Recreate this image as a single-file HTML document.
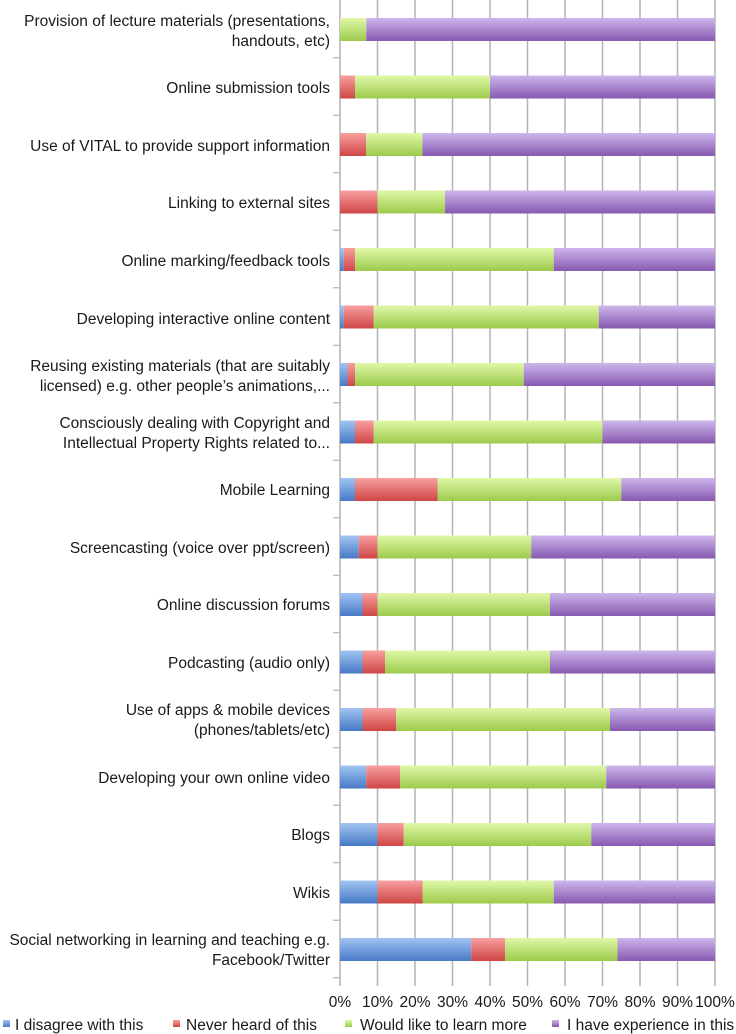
<!DOCTYPE html>
<html><head><meta charset="utf-8"><style>
html,body{margin:0;padding:0;background:#fff;}
svg{display:block;font-family:"Liberation Sans",Arial,sans-serif;}
</style></head><body>
<svg width="736" height="1034" viewBox="0 0 736 1034" xmlns="http://www.w3.org/2000/svg">
<defs>
<linearGradient id="gb" x1="0" y1="0" x2="0" y2="1"><stop offset="0" stop-color="#a2c4f2"/><stop offset="1" stop-color="#4679c6"/></linearGradient>
<linearGradient id="gr" x1="0" y1="0" x2="0" y2="1"><stop offset="0" stop-color="#f8a0a0"/><stop offset="1" stop-color="#cf4545"/></linearGradient>
<linearGradient id="gg" x1="0" y1="0" x2="0" y2="1"><stop offset="0" stop-color="#e0f8a8"/><stop offset="1" stop-color="#9cca4c"/></linearGradient>
<linearGradient id="gp" x1="0" y1="0" x2="0" y2="1"><stop offset="0" stop-color="#cdb6ec"/><stop offset="1" stop-color="#8759b0"/></linearGradient>
</defs>
<g stroke="#b4b4b4" stroke-width="1.5">
<line x1="377.5" y1="0" x2="377.5" y2="986"/><line x1="415" y1="0" x2="415" y2="986"/><line x1="452.5" y1="0" x2="452.5" y2="986"/><line x1="490" y1="0" x2="490" y2="986"/><line x1="527.5" y1="0" x2="527.5" y2="986"/><line x1="565" y1="0" x2="565" y2="986"/><line x1="602.5" y1="0" x2="602.5" y2="986"/><line x1="640" y1="0" x2="640" y2="986"/><line x1="677.5" y1="0" x2="677.5" y2="986"/><line x1="715" y1="0" x2="715" y2="986"/>
<line x1="340" y1="0" x2="340" y2="986"/>
</g>
<g stroke="#b4b4b4" stroke-width="1.2">
<line x1="333" y1="57.75" x2="340" y2="57.75"/><line x1="333" y1="115.25" x2="340" y2="115.25"/><line x1="333" y1="172.75" x2="340" y2="172.75"/><line x1="333" y1="230.25" x2="340" y2="230.25"/><line x1="333" y1="287.75" x2="340" y2="287.75"/><line x1="333" y1="345.25" x2="340" y2="345.25"/><line x1="333" y1="402.75" x2="340" y2="402.75"/><line x1="333" y1="460.25" x2="340" y2="460.25"/><line x1="333" y1="517.75" x2="340" y2="517.75"/><line x1="333" y1="575.25" x2="340" y2="575.25"/><line x1="333" y1="632.75" x2="340" y2="632.75"/><line x1="333" y1="690.25" x2="340" y2="690.25"/><line x1="333" y1="747.75" x2="340" y2="747.75"/><line x1="333" y1="805.25" x2="340" y2="805.25"/><line x1="333" y1="862.75" x2="340" y2="862.75"/><line x1="333" y1="920.25" x2="340" y2="920.25"/><line x1="333" y1="977.75" x2="340" y2="977.75"/>
</g>
<g transform="translate(340,0) scale(3.75,1)">
<g transform="translate(0,18)"><rect x="0" width="7" height="23" fill="url(#gg)"/><rect x="7" width="93" height="23" fill="url(#gp)"/></g>
<g transform="translate(0,75.5)"><rect x="0" width="4" height="23" fill="url(#gr)"/><rect x="4" width="36" height="23" fill="url(#gg)"/><rect x="40" width="60" height="23" fill="url(#gp)"/></g>
<g transform="translate(0,133)"><rect x="0" width="7" height="23" fill="url(#gr)"/><rect x="7" width="15" height="23" fill="url(#gg)"/><rect x="22" width="78" height="23" fill="url(#gp)"/></g>
<g transform="translate(0,190.5)"><rect x="0" width="10" height="23" fill="url(#gr)"/><rect x="10" width="18" height="23" fill="url(#gg)"/><rect x="28" width="72" height="23" fill="url(#gp)"/></g>
<g transform="translate(0,248)"><rect x="0" width="1" height="23" fill="url(#gb)"/><rect x="1" width="3" height="23" fill="url(#gr)"/><rect x="4" width="53" height="23" fill="url(#gg)"/><rect x="57" width="43" height="23" fill="url(#gp)"/></g>
<g transform="translate(0,305.5)"><rect x="0" width="1" height="23" fill="url(#gb)"/><rect x="1" width="8" height="23" fill="url(#gr)"/><rect x="9" width="60" height="23" fill="url(#gg)"/><rect x="69" width="31" height="23" fill="url(#gp)"/></g>
<g transform="translate(0,363)"><rect x="0" width="2" height="23" fill="url(#gb)"/><rect x="2" width="2" height="23" fill="url(#gr)"/><rect x="4" width="45" height="23" fill="url(#gg)"/><rect x="49" width="51" height="23" fill="url(#gp)"/></g>
<g transform="translate(0,420.5)"><rect x="0" width="4" height="23" fill="url(#gb)"/><rect x="4" width="5" height="23" fill="url(#gr)"/><rect x="9" width="61" height="23" fill="url(#gg)"/><rect x="70" width="30" height="23" fill="url(#gp)"/></g>
<g transform="translate(0,478)"><rect x="0" width="4" height="23" fill="url(#gb)"/><rect x="4" width="22" height="23" fill="url(#gr)"/><rect x="26" width="49" height="23" fill="url(#gg)"/><rect x="75" width="25" height="23" fill="url(#gp)"/></g>
<g transform="translate(0,535.5)"><rect x="0" width="5" height="23" fill="url(#gb)"/><rect x="5" width="5" height="23" fill="url(#gr)"/><rect x="10" width="41" height="23" fill="url(#gg)"/><rect x="51" width="49" height="23" fill="url(#gp)"/></g>
<g transform="translate(0,593)"><rect x="0" width="6" height="23" fill="url(#gb)"/><rect x="6" width="4" height="23" fill="url(#gr)"/><rect x="10" width="46" height="23" fill="url(#gg)"/><rect x="56" width="44" height="23" fill="url(#gp)"/></g>
<g transform="translate(0,650.5)"><rect x="0" width="6" height="23" fill="url(#gb)"/><rect x="6" width="6" height="23" fill="url(#gr)"/><rect x="12" width="44" height="23" fill="url(#gg)"/><rect x="56" width="44" height="23" fill="url(#gp)"/></g>
<g transform="translate(0,708)"><rect x="0" width="6" height="23" fill="url(#gb)"/><rect x="6" width="9" height="23" fill="url(#gr)"/><rect x="15" width="57" height="23" fill="url(#gg)"/><rect x="72" width="28" height="23" fill="url(#gp)"/></g>
<g transform="translate(0,765.5)"><rect x="0" width="7" height="23" fill="url(#gb)"/><rect x="7" width="9" height="23" fill="url(#gr)"/><rect x="16" width="55" height="23" fill="url(#gg)"/><rect x="71" width="29" height="23" fill="url(#gp)"/></g>
<g transform="translate(0,823)"><rect x="0" width="10" height="23" fill="url(#gb)"/><rect x="10" width="7" height="23" fill="url(#gr)"/><rect x="17" width="50" height="23" fill="url(#gg)"/><rect x="67" width="33" height="23" fill="url(#gp)"/></g>
<g transform="translate(0,880.5)"><rect x="0" width="10" height="23" fill="url(#gb)"/><rect x="10" width="12" height="23" fill="url(#gr)"/><rect x="22" width="35" height="23" fill="url(#gg)"/><rect x="57" width="43" height="23" fill="url(#gp)"/></g>
<g transform="translate(0,938)"><rect x="0" width="35" height="23" fill="url(#gb)"/><rect x="35" width="9" height="23" fill="url(#gr)"/><rect x="44" width="30" height="23" fill="url(#gg)"/><rect x="74" width="26" height="23" fill="url(#gp)"/></g>
</g>
<g font-size="15.5" fill="#1a1a1a" text-anchor="end">
<text x="330" y="26">Provision of lecture materials (presentations,</text><text x="330" y="46">handouts, etc)</text>
<text x="330" y="93">Online submission tools</text>
<text x="330" y="151">Use of VITAL to provide support information</text>
<text x="330" y="208">Linking to external sites</text>
<text x="330" y="266">Online marking/feedback tools</text>
<text x="330" y="324">Developing interactive online content</text>
<text x="330" y="371">Reusing existing materials (that are suitably</text><text x="330" y="391">licensed) e.g. other people’s animations,...</text>
<text x="330" y="428">Consciously dealing with Copyright and</text><text x="330" y="448">Intellectual Property Rights related to...</text>
<text x="330" y="495">Mobile Learning</text>
<text x="330" y="553">Screencasting (voice over ppt/screen)</text>
<text x="330" y="610">Online discussion forums</text>
<text x="330" y="668">Podcasting (audio only)</text>
<text x="330" y="715">Use of apps &amp; mobile devices</text><text x="330" y="735">(phones/tablets/etc)</text>
<text x="330" y="783">Developing your own online video</text>
<text x="330" y="840">Blogs</text>
<text x="330" y="898">Wikis</text>
<text x="330" y="945">Social networking in learning and teaching e.g.</text><text x="330" y="965">Facebook/Twitter</text>
</g>
<g font-size="15.5" fill="#1a1a1a" text-anchor="middle">
<text x="340" y="1007">0%</text><text x="377.5" y="1007">10%</text><text x="415" y="1007">20%</text><text x="452.5" y="1007">30%</text><text x="490" y="1007">40%</text><text x="527.5" y="1007">50%</text><text x="565" y="1007">60%</text><text x="602.5" y="1007">70%</text><text x="640" y="1007">80%</text><text x="677.5" y="1007">90%</text><text x="715" y="1007">100%</text>
</g>
<g font-size="15.5" fill="#1a1a1a">
<rect x="3" y="1020" width="7" height="7" fill="url(#gb)"/><text x="15" y="1030">I disagree with this</text>
<rect x="173" y="1020" width="7" height="7" fill="url(#gr)"/><text x="186" y="1030">Never heard of this</text>
<rect x="345" y="1020" width="7" height="7" fill="url(#gg)"/><text x="360" y="1030">Would like to learn more</text>
<rect x="552" y="1020" width="7" height="7" fill="url(#gp)"/><text x="567" y="1030">I have experience in this</text>
</g>
</svg>
</body></html>
